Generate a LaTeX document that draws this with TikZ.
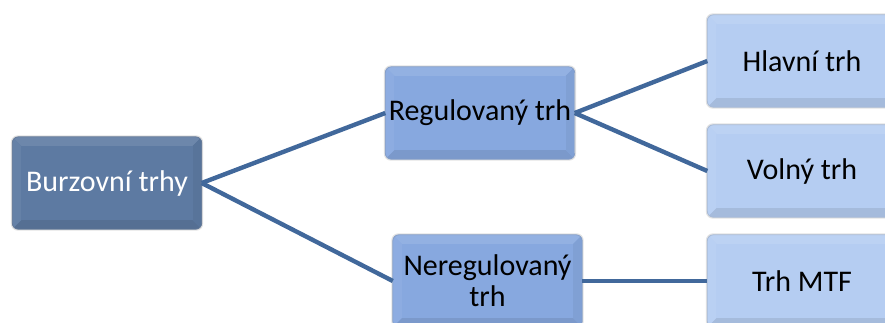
\documentclass[tikz,border=0pt]{standalone}
\usepackage{fontspec}
\setmainfont{Carlito}
\usetikzlibrary{calc,backgrounds}

\definecolor{linkblue}{HTML}{41689B}
\definecolor{rootfill}{HTML}{5D7AA2}
\definecolor{midfill}{HTML}{87A8DF}
\definecolor{leaffill}{HTML}{B5CDF2}

\tikzset{
  box/.style={minimum width=189pt, minimum height=92pt, inner sep=0pt,
    align=center, font=\fontsize{30}{31}\selectfont},
  rootbox/.style={box, text=white},
  link/.style={draw=linkblue, line width=4.4pt},
}

% bevelled, rounded panel behind a named node
\newcommand{\bevelpanel}[2]{%
  \begin{pgfonlayer}{background}
    \fill[gray!22, rounded corners=7pt]
      ($(#1.north west)+(-1.5pt,1.5pt)$) rectangle ($(#1.south east)+(1.5pt,-1.5pt)$);
    \begin{scope}
      \clip[rounded corners=6pt] (#1.north west) rectangle (#1.south east);
      \fill[#2] (#1.north west) rectangle (#1.south east);
      % top and left faces, lit
      \fill[#2!90!white] (#1.north west) -- (#1.north east)
        -- ($(#1.north east)+(-9pt,-9pt)$) -- ($(#1.north west)+(9pt,-9pt)$) -- cycle;
      \fill[#2!95!white] (#1.north west) -- ($(#1.north west)+(9pt,-9pt)$)
        -- ($(#1.south west)+(9pt,9pt)$) -- (#1.south west) -- cycle;
      % bottom and right faces, shaded
      \fill[#2!91!black] (#1.south west) -- ($(#1.south west)+(9pt,9pt)$)
        -- ($(#1.south east)+(-9pt,9pt)$) -- (#1.south east) -- cycle;
      \fill[#2!95!black] (#1.north east) -- (#1.south east)
        -- ($(#1.south east)+(-9pt,9pt)$) -- ($(#1.north east)+(-9pt,-9pt)$) -- cycle;
      \fill[#2] ($(#1.north west)+(9pt,-9pt)$) rectangle ($(#1.south east)+(-9pt,9pt)$);
    \end{scope}
    \draw[#2!75!gray, line width=0.8pt, rounded corners=6pt]
      (#1.north west) rectangle (#1.south east);
  \end{pgfonlayer}}

\begin{document}
\begin{tikzpicture}[x=1pt, y=-1pt]
  \useasboundingbox (0,0) rectangle (885,322);

  \node[rootbox] (burza) at (107,183) {Burzovní trhy};
  \node[box] (reg)   at (480,113) {Regulovaný trh};
  \node[box] (nereg) at (487.5,281) {Neregulovaný\\trh};
  \node[box] (hlavni) at (802,61)  {Hlavní trh};
  \node[box] (volny)  at (802,171) {Volný trh};
  \node[box] (mtf)    at (802,281) {Trh MTF};

  \bevelpanel{burza}{rootfill}
  \bevelpanel{reg}{midfill}
  \bevelpanel{nereg}{midfill}
  \bevelpanel{hlavni}{leaffill}
  \bevelpanel{volny}{leaffill}
  \bevelpanel{mtf}{leaffill}

  \draw[link] (burza.east) -- (reg.west);
  \draw[link] (burza.east) -- (nereg.west);
  \draw[link] (reg.east) -- (hlavni.west);
  \draw[link] (reg.east) -- (volny.west);
  \draw[link] (nereg.east) -- (mtf.west);
\end{tikzpicture}
\end{document}
